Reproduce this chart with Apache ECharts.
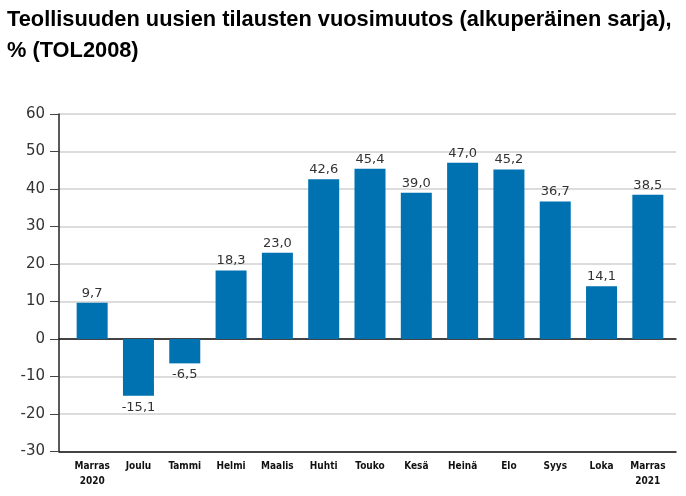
<!DOCTYPE html>
<html>
<head>
<meta charset="utf-8">
<script src="https://cdn.jsdelivr.net/npm/echarts@6/dist/echarts.min.js"></script>
<style>html,body{margin:0;padding:0;background:#fff}#c{width:686px;height:496px}</style>
</head>
<body>
<div id="c"></div>
<script>
const titleLines = ['Teollisuuden uusien tilausten vuosimuutos (alkuperäinen sarja),', '% (TOL2008)'];
const categories = ['Marras\n2020','Joulu','Tammi','Helmi','Maalis','Huhti','Touko','Kesä','Heinä','Elo','Syys','Loka','Marras\n2021'];
const values = [9.7, -15.1, -6.5, 18.3, 23.0, 42.6, 45.4, 39.0, 47.0, 45.2, 36.7, 14.1, 38.5];
const yMin = -30, yMax = 60, yStep = 10;

const chart = echarts.init(document.getElementById('c'), null, {renderer: 'canvas'});
const fmt = v => v.toFixed(1).replace('.', ',');
const barData = values.map(v => ({
  value: v,
  label: { position: v < 0 ? 'bottom' : 'top', distance: v < 0 ? 5 : 3 }
}));

chart.setOption({
  animation: false,
  backgroundColor: '#fff',
  title: {
    text: titleLines.join('\n'),
    left: 2, top: -1,
    textStyle: { fontFamily: 'Liberation Sans, Arial, sans-serif', fontSize: 21.8, fontWeight: 'bold', color: '#000', lineHeight: 31 }
  },
  grid: [
    { left: 59, right: 10, top: 114, bottom: 44.5 },
    { left: 69, right: 15, top: 114, bottom: 44.5 }
  ],
  xAxis: [
    { gridIndex: 0, type: 'value', min: 0, max: 1, show: true,
      axisLine: { show: true, onZero: true, lineStyle: { color: '#111', width: 1.5 } },
      axisTick: { show: false }, axisLabel: { show: false }, splitLine: { show: false } },
    { gridIndex: 0, type: 'value', min: 0, max: 1, position: 'bottom',
      axisLine: { show: true, onZero: false, lineStyle: { color: '#111', width: 1.5 } },
      axisTick: { show: false }, axisLabel: { show: false }, splitLine: { show: false } },
    { gridIndex: 1, type: 'category', data: categories, position: 'bottom',
      axisLine: { show: false, onZero: false }, axisTick: { show: false },
      axisLabel: { margin: 7, fontFamily: 'DejaVu Sans Condensed, sans-serif', fontWeight: 'bold', fontSize: 10, lineHeight: 15, color: '#111', interval: 0 } }
  ],
  yAxis: [
    { gridIndex: 0, type: 'value', min: yMin, max: yMax, interval: yStep,
      axisLine: { show: true, lineStyle: { color: '#222', width: 1.5 } },
      axisTick: { show: true, length: 9, lineStyle: { color: '#444', width: 1 } },
      axisLabel: { margin: 14, fontFamily: 'DejaVu Sans, Verdana, sans-serif', fontSize: 15, color: '#333' },
      splitLine: { show: true, lineStyle: { color: '#dcdcdc', width: 2 } } },
    { gridIndex: 1, type: 'value', min: yMin, max: yMax, interval: yStep, show: false,
      splitLine: { show: false } }
  ],
  series: [{
    type: 'bar', xAxisIndex: 2, yAxisIndex: 1,
    data: barData, barWidth: 31,
    itemStyle: { color: '#0071b1' },
    label: { show: true, fontFamily: 'DejaVu Sans, Verdana, sans-serif', fontSize: 13, color: '#333',
      formatter: p => fmt(p.value) }
  }]
});
</script>
</body>
</html>
